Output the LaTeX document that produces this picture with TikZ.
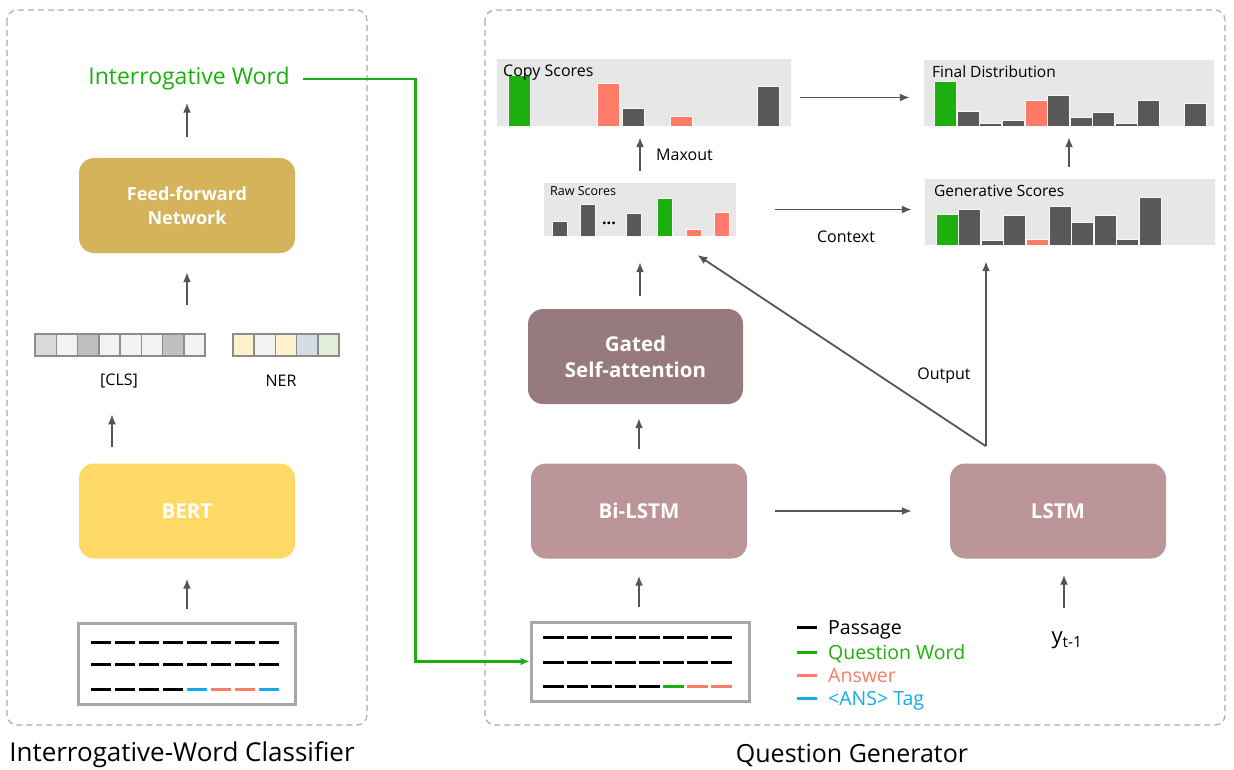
\documentclass[tikz,border=0pt]{standalone}
\usepackage{fontspec}
\setmainfont{Open Sans}
\usetikzlibrary{arrows.meta, positioning, calc}

\definecolor{qgreen}{HTML}{1DAF0D}
\definecolor{ansC}{HTML}{FF7B67}
\definecolor{tagC}{HTML}{13ADEA}
\definecolor{barC}{HTML}{595959}
\definecolor{chartbg}{HTML}{E8E7E7}
\definecolor{arrC}{HTML}{555555}
\definecolor{frameC}{HTML}{ABABAB}
\definecolor{psgC}{HTML}{A8A8A8}
\definecolor{ffnC}{HTML}{D5B35A}
\definecolor{bertC}{HTML}{FFD966}
\definecolor{gsaC}{HTML}{967A7D}
\definecolor{lstmC}{HTML}{BC9598}
\definecolor{cellL}{HTML}{F2F2F2}
\definecolor{cellM}{HTML}{D9D9D9}
\definecolor{cellD}{HTML}{BFBFBF}
\definecolor{nerY}{HTML}{FFF2CC}
\definecolor{nerB}{HTML}{D6DCE5}
\definecolor{nerG}{HTML}{E2F0D9}

\tikzset{
  panel/.style={draw=frameC, dash pattern=on 6pt off 4pt, line width=1.2pt, rounded corners=10pt},
  block/.style={rounded corners=15pt, minimum width=216pt, minimum height=95pt, inner sep=0pt,
    text=white, align=center, font=\bfseries\fontsize{20.5}{26}\selectfont},
  arr/.style={draw=arrC, line width=1.8pt, -{Latex[length=10pt,width=8pt]}},
  qarr/.style={draw=qgreen, line width=2.4pt, -{Latex[length=9pt,width=8pt]}},
  chart/.style={fill=chartbg, inner sep=0pt},
  bar/.style={draw=white!70!chartbg, line width=0.6pt},
  psg/.style={draw=psgC, line width=3pt, fill=white, inner sep=0pt},
  tok/.style={line width=3pt},
  vec/.style={inner sep=0pt, minimum height=22pt},
  cell/.style={draw=gray!90, line width=1.5pt},
  lbl/.style={inner sep=0pt, font=\fontsize{16}{16}\selectfont},
  caption/.style={inner sep=0pt, font=\fontsize{25}{25}\selectfont},
  legtext/.style={inner sep=0pt, font=\fontsize{19.5}{19.5}\selectfont}
}

\begin{document}
\begin{tikzpicture}[x=1pt, y=-1pt]
\useasboundingbox (0,0) rectangle (1234,770);

% two panels
\draw[panel] (7,10) rectangle (367,725);
\draw[panel] (485,10) rectangle (1225,725);
\node[caption, font=\fontsize{26}{26}\selectfont] (capL) at (182,755) {Interrogative-Word Classifier};
\node[caption] (capR) at (852,755) {Question Generator};

% interrogative-word classifier
\node[psg, minimum width=217pt, minimum height=81pt] (psgL) at (187,664) {};
\foreach \yy in {642,664}
  \foreach \i in {0,...,7}
    \draw[tok] (91+24*\i,\yy) -- ++(20,0);
\foreach \c [count=\i from 0] in {black,black,black,black,tagC,ansC,ansC,tagC}
  \draw[tok, draw=\c] (91+24*\i,689) -- ++(20,0);

\node[block, fill=bertC] (bert) at (187,511) {BERT};
\node[vec, minimum width=170pt] (cls) at (120,345) {};
\node[vec, minimum width=106pt] (ner) at (286,345) {};
\foreach \c [count=\i from 0] in {cellM,cellL,cellD,cellL,cellL,cellL,cellD,cellL}
  \draw[cell, fill=\c] (35+21.25*\i,334) rectangle ++(21.25,22);
\foreach \c [count=\i from 0] in {nerY,cellL,nerY,nerB,nerG}
  \draw[cell, fill=\c] (233+21.2*\i,334) rectangle ++(21.2,22);
\node[lbl] (clslbl) at (119,381) {[CLS]};
\node[lbl] (nerlbl) at (281,381) {NER};
\node[block, fill=ffnC, font=\bfseries\fontsize{18}{24}\selectfont] (ffn) at (187,205.5) {Feed-forward\\Network};
\node[inner sep=0pt, text=qgreen, font=\fontsize{23}{23}\selectfont] (iw) at (189,79) {Interrogative Word};

\draw[arr, shorten <=13pt, shorten >=20pt] (psgL.north) -- (bert.south);
\draw[arr, shorten <=16pt, shorten >=26pt] ([xshift=-7pt]bert.north -| clslbl.south) -- ([xshift=-7pt]clslbl.south);
\draw[arr, shorten <=29pt, shorten >=19pt] (ffn.south |- cls.north) -- (ffn.south);
\draw[arr, shorten <=21pt, shorten >=12pt] (ffn.north) -- (ffn.north |- iw.south);

% question generator
\node[psg, minimum width=218pt, minimum height=79pt] (psgR) at (640,661.5) {};
\foreach \yy in {637,662}
  \foreach \i in {0,...,7}
    \draw[tok] (543+24*\i,\yy) -- ++(21,0);
\foreach \c [count=\i from 0] in {black,black,black,black,black,qgreen,ansC,ansC}
  \draw[tok, draw=\c] (543+24*\i,686) -- ++(21,0);

\node[block, fill=lstmC] (bilstm) at (639,511) {Bi-LSTM};
\node[block, fill=lstmC] (lstm) at (1058,511) {LSTM};
\node[block, fill=gsaC, minimum width=215pt] (gsa) at (635.5,356.5) {Gated\\Self-attention};

% score charts
\node[chart, minimum width=192pt, minimum height=53pt] (raw) at (640,209.5) {};
\node[chart, minimum width=294pt, minimum height=67pt] (copy) at (644,92.5) {};
\node[chart, minimum width=290pt, minimum height=66pt] (final) at (1069,93) {};
\node[chart, minimum width=290pt, minimum height=66pt] (gen) at (1070,212) {};
\foreach \bx/\bt/\bc in {508/75/qgreen, 597/83/ansC, 622/108/barC, 670/116/ansC, 757/86/barC}
  \draw[bar, fill=\bc] (\bx,126) rectangle (\bx+22,\bt);
\foreach \bx/\bt/\bc in {552/221/barC, 580/204/barC, 626/213/barC, 657/198/qgreen, 686/229/ansC, 714/212/ansC}
  \draw[bar, fill=\bc] (\bx,236) rectangle (\bx+15,\bt);
\foreach \bx/\bt/\bc in {934/81/qgreen, 957/111/barC, 979/123/barC, 1002/120/barC, 1025/100/ansC, 1047/95/barC,
    1070/117/barC, 1092/112/barC, 1115/123/barC, 1137/100/barC, 1184/103/barC}
  \draw[bar, fill=\bc] (\bx,126) rectangle (\bx+22,\bt);
\foreach \bx/\bt/\bc in {936/214/qgreen, 958/209/barC, 981/240/barC, 1003/215/barC, 1026/239/ansC, 1049/206/barC,
    1071/222/barC, 1094/215/barC, 1116/239/barC, 1139/197/barC}
  \draw[bar, fill=\bc] (\bx,245) rectangle (\bx+22,\bt);
\node[lbl, anchor=base west] (copylbl) at (503,77) {Copy Scores};
\node[inner sep=0pt, anchor=base west, font=\fontsize{12.5}{12.5}\selectfont] (rawlbl) at (550,196) {Raw Scores};
\node[inner sep=0pt, anchor=base west, font=\fontsize{15.5}{15.5}\selectfont] (finallbl) at (932,78) {Final Distribution};
\node[inner sep=0pt, anchor=base west, font=\fontsize{15.5}{15.5}\selectfont] (genlbl) at (934,197) {Generative Scores};
\node[inner sep=0pt, font=\bfseries\fontsize{16}{16}\selectfont] (dots) at (609,223) {...};

\draw[arr, shorten <=14pt, shorten >=17pt] (bilstm.south |- psgR.north) -- (bilstm.south);
\draw[arr, shorten <=14pt, shorten >=14pt] (bilstm.north) -- (bilstm.north |- gsa.south);
\draw[arr, shorten <=13pt, shorten >=26pt] (raw.south |- gsa.north) -- (raw.south);
\draw[arr, shorten <=12pt, shorten >=11pt] (raw.north) -- (raw.north |- copy.south);
\node[lbl, anchor=base west] (maxout) at (656,161) {Maxout};
\draw[arr, shorten <=9pt, shorten >=14pt] ([yshift=-5pt]copy.east) -- ([yshift=-5pt]copy.east -| final.west);
\draw[arr, shorten <=39pt, shorten >=13pt] (raw.east) -- (raw.east -| gen.west);
\node[lbl] (context) at (846,237) {Context};
\draw[arr, shorten <=12pt, shorten >=11pt] (gen.north -| final.south) -- (final.south);
\draw[arr, shorten <=28pt, shorten >=38pt] (bilstm.east) -- (lstm.west);
\coordinate (out) at ([xshift=-72pt, yshift=17pt]lstm.north);
\draw[arr, shorten >=16pt] (out) -- (out |- gen.south);
\draw[arr, shorten >=34pt] (out) -- ([xshift=29pt]raw.south);
\node[lbl] (output) at (944,376) {Output};
\node[inner sep=0pt, font=\fontsize{22}{22}\selectfont] (yprev) at (1067,640) {y\textsubscript{t-1}};
\draw[arr, shorten <=23pt, shorten >=16pt] ([xshift=6pt]lstm.south |- yprev.north) -- ([xshift=6pt]lstm.south);

% interrogative word feeds the passage
\draw[qarr, shorten <=13pt] (iw.east) -| ([xshift=-114pt]psgR.west) -- (psgR.west);

% legend
\foreach \t/\c/\yy [count=\i] in {Passage/black/627, Question Word/qgreen/652, Answer/ansC/675, <ANS> Tag/tagC/698}{
  \draw[tok, draw=\c] (797,\yy) -- ++(20,0);
  \node[legtext, anchor=base west, text=\c] (leg\i) at (828,\yy+7) {\t};
}
\end{tikzpicture}
\end{document}
